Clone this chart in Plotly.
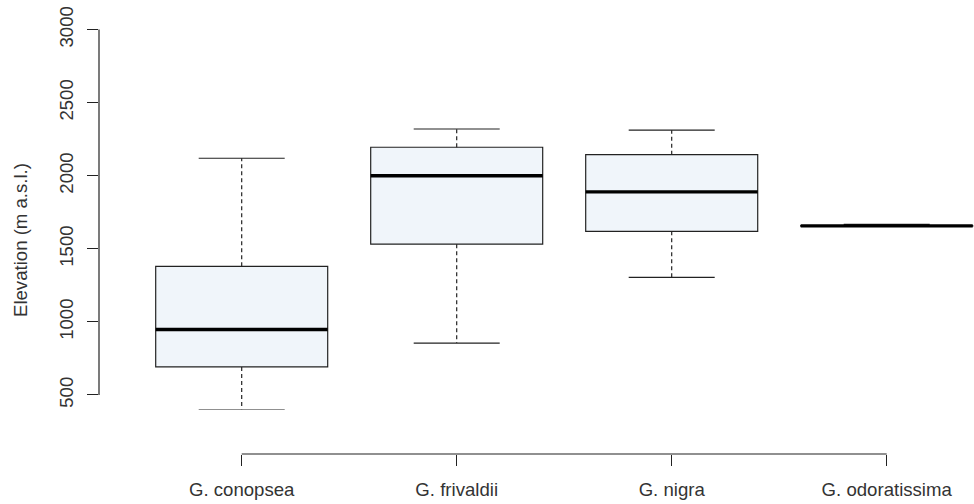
import plotly.graph_objects as go

# ---- data ----
species = ["G. conopsea", "G. frivaldii", "G. nigra", "G. odoratissima"]
lower_whisker = [400, 855, 1305, 1655]
q1 = [692, 1532, 1620, 1655]
median = [948, 2000, 1890, 1657]
q3 = [1380, 2195, 2144, 1659]
upper_whisker = [2120, 2320, 2312, 1668]

y_ticks = [500, 1000, 1500, 2000, 2500, 3000]
y_title = "Elevation (m a.s.l.)"

# ---- style ----
FILL = "#F0F5FA"
EDGE = "#222222"
TEXT = "#333333"
FONT = "Liberation Sans, Arial, sans-serif"
FS = 18.6
BOX_W = 0.8
STAPLE_W = 0.4

W, H = 974, 504
ML, MR, MT, MB = 99, 0, 15, 50
plot_h = H - MT - MB
y_dom0 = (454 - 409.6) / plot_h

pos = list(range(1, len(species) + 1))

fig = go.Figure()

# boxes
fig.add_trace(go.Bar(
    x=pos,
    base=q1,
    y=[b - a for a, b in zip(q1, q3)],
    width=BOX_W,
    marker=dict(color=FILL, line=dict(color=EDGE, width=1.2)),
    hoverinfo="skip",
))

# whiskers (dashed)
wx, wy = [], []
for p, lo, a, b, hi in zip(pos, lower_whisker, q1, q3, upper_whisker):
    wx += [p, p, None, p, p, None]
    wy += [a, lo, None, b, hi, None]
fig.add_trace(go.Scatter(x=wx, y=wy, mode="lines",
                         line=dict(color=EDGE, width=1.2, dash="4px,3px"),
                         hoverinfo="skip"))

# staples
sx, sy = [], []
for p, lo, hi in zip(pos, lower_whisker, upper_whisker):
    sx += [p - STAPLE_W / 2, p + STAPLE_W / 2, None, p - STAPLE_W / 2, p + STAPLE_W / 2, None]
    sy += [lo, lo, None, hi, hi, None]
fig.add_trace(go.Scatter(x=sx, y=sy, mode="lines",
                         line=dict(color=EDGE, width=1.2),
                         hoverinfo="skip"))

# medians
mx, my = [], []
for p, m in zip(pos, median):
    mx += [p - BOX_W / 2, p + BOX_W / 2, None]
    my += [m, m, None]
fig.add_trace(go.Scatter(x=mx, y=my, mode="lines",
                         line=dict(color="#000000", width=3.4),
                         hoverinfo="skip"))

# axis lines drawn R-style (only between first and last tick)
fig.add_shape(type="line", xref="paper", yref="y", x0=0, x1=0,
              y0=y_ticks[0], y1=y_ticks[-1], line=dict(color=EDGE, width=1.2))
fig.add_shape(type="line", xref="x", yref="paper", x0=pos[0], x1=pos[-1],
              y0=0, y1=0, line=dict(color=EDGE, width=1.2))

fig.add_annotation(text=y_title, xref="paper", yref="paper",
                   x=(20 - ML) / (W - ML - MR), y=(454 - 240) / plot_h,
                   xanchor="center", yanchor="middle",
                   textangle=-90, showarrow=False,
                   font=dict(family=FONT, size=FS, color=TEXT))

fig.update_layout(
    width=W, height=H,
    margin=dict(l=ML, r=MR, t=MT, b=MB, pad=0),
    paper_bgcolor="white", plot_bgcolor="white",
    showlegend=False,
    font=dict(family=FONT, size=FS, color=TEXT),
    xaxis=dict(range=[0.3363, 4.406], tickmode="array", tickvals=pos,
               ticktext=species, ticks="outside", ticklen=11, tickwidth=1.2,
               tickcolor=EDGE, showline=False, showgrid=False, zeroline=False,
               anchor="free", position=0, ticklabelstandoff=8),
    yaxis=dict(range=[400, 3100], domain=[y_dom0, 1], tickmode="array",
               tickvals=y_ticks, ticks="outside", ticklen=11, tickwidth=1.2,
               tickcolor=EDGE, tickangle=-90, showline=False, showgrid=False,
               zeroline=False, ticklabelstandoff=7),
)

fig.write_html("out.html",
               config={"displayModeBar": False},
               post_script="document.body.style.margin='0';"
                           "document.body.style.overflow='hidden';")
